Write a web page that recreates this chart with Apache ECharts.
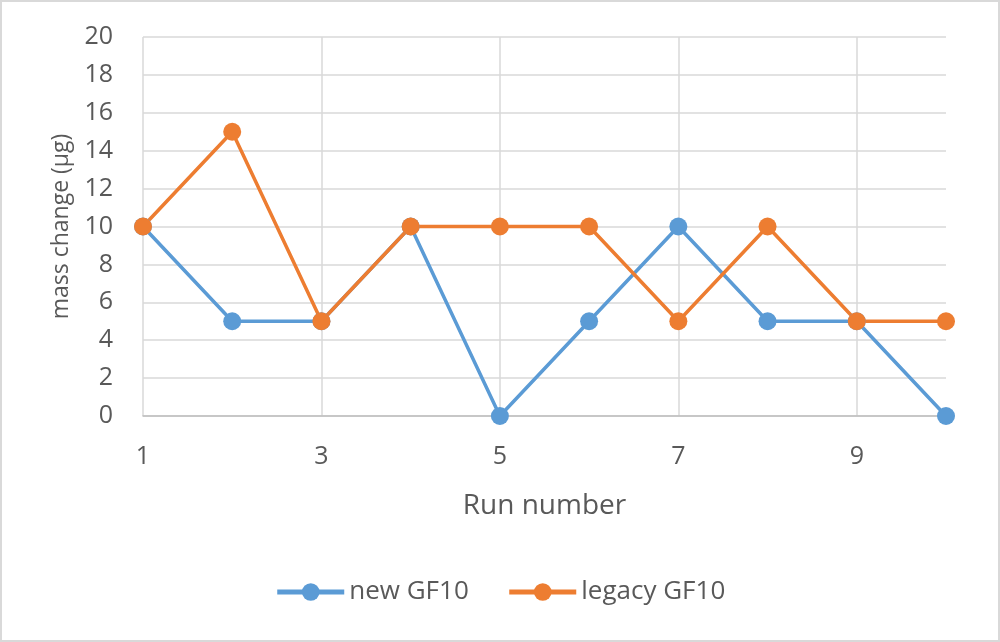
<!DOCTYPE html>
<html>
<head>
<meta charset="utf-8">
<script src="https://cdn.jsdelivr.net/npm/echarts@6/dist/echarts.min.js"></script>
<style>
  html, body { margin: 0; padding: 0; background: #fff; }
  #chart { width: 1000px; height: 642px; box-sizing: border-box; border: 2px solid #d9d9d9; }
</style>
</head>
<body>
<div id="chart"></div>
<script>
const runs = ['1', '2', '3', '4', '5', '6', '7', '8', '9', '10']
const newGF10 = [10, 5, 5, 10, 0, 5, 10, 5, 5, 0]
const legacyGF10 = [10, 15, 5, 10, 10, 10, 5, 10, 5, 5]

const font = '"Open Sans", "Noto Sans", sans-serif'
const textColor = '#595959'

const chart = echarts.init(document.getElementById('chart'))

const lineSeries = (name, data, color) => ({
  name,
  type: 'line',
  data,
  symbol: 'circle',
  symbolSize: 18,
  lineStyle: { width: 3.5, color },
  itemStyle: { color },
  emphasis: { disabled: true },
  animation: false,
})

chart.setOption({
  textStyle: { fontFamily: font },
  grid: { left: 141, right: 52, top: 35, bottom: 224 },
  xAxis: {
    type: 'category',
    data: runs,
    boundaryGap: false,
    name: 'Run number',
    nameLocation: 'middle',
    nameGap: 76,
    nameTextStyle: { fontSize: 28, color: textColor, fontFamily: font },
    axisLine: { lineStyle: { color: '#bfbfbf', width: 1.5 } },
    axisTick: { show: false },
    axisLabel: { interval: 1, fontSize: 25, color: textColor, margin: 28, fontFamily: font },
    splitLine: { show: true, interval: 1, lineStyle: { color: '#d9d9d9', width: 1.5 } },
  },
  yAxis: {
    type: 'value',
    min: 0,
    max: 20,
    interval: 2,
    name: 'mass change (µg)',
    nameLocation: 'middle',
    nameGap: 70,
    nameTextStyle: { fontSize: 23, color: textColor, fontFamily: font },
    axisLine: { show: false },
    axisTick: { show: false },
    axisLabel: { fontSize: 25, color: textColor, margin: 30, fontFamily: font },
    splitLine: { lineStyle: { color: '#d9d9d9', width: 1.5 } },
  },
  legend: {
    bottom: 30,
    left: 'center',
    itemWidth: 67,
    itemHeight: 22,
    itemGap: 38,
    lineStyle: { width: 5 },
    textStyle: { fontSize: 26, color: textColor, fontFamily: font },
    data: ['new GF10', 'legacy GF10'],
  },
  series: [
    lineSeries('new GF10', newGF10, '#5B9BD5'),
    lineSeries('legacy GF10', legacyGF10, '#ED7D31'),
  ],
})
</script>
</body>
</html>
